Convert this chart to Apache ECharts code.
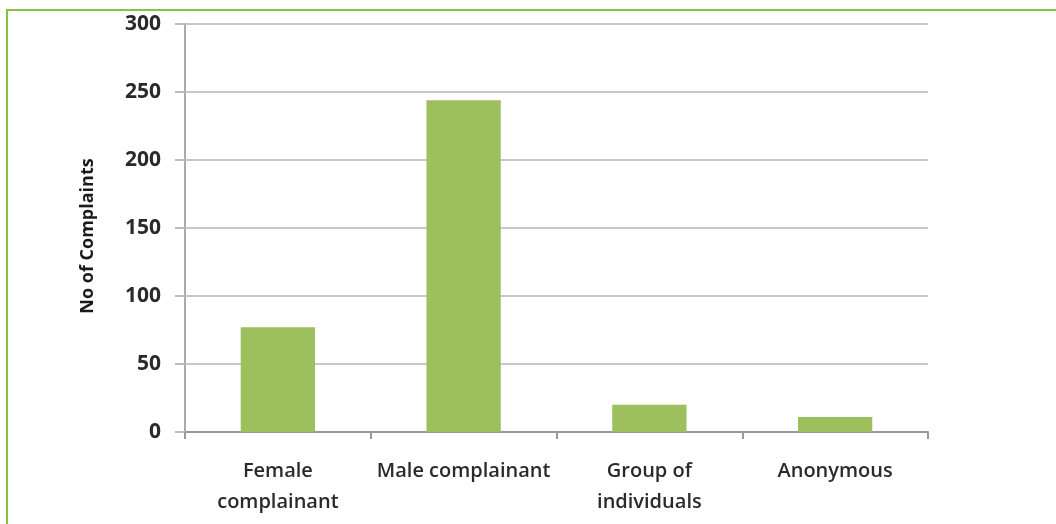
<!DOCTYPE html>
<html><head><meta charset="utf-8">
<script src="https://cdn.jsdelivr.net/npm/echarts@6/dist/echarts.min.js"></script>
<style>html,body{margin:0;padding:0;background:#fff}#c{width:1056px;height:524px}</style>
</head><body><div id="c"></div>
<script>
var categories = ["Female\ncomplainant", "Male complainant", "Group of\nindividuals", "Anonymous"];
var values = [77, 244, 20, 11];
var yTicks = [0, 50, 100, 150, 200, 250, 300];
var yName = "No of Complaints";

var chart = echarts.init(document.getElementById('c'));
chart.setOption({
  animation: false,
  backgroundColor: '#fff',
  graphic: [{
    type: 'rect', shape: {x: 7, y: 10, width: 1100, height: 600},
    style: {fill: 'none', stroke: '#84c441', lineWidth: 2}, silent: true
  }],
  grid: {left: 185, right: 128, top: 24, bottom: 92, containLabel: false},
  xAxis: {
    type: 'category', data: categories,
    axisLine: {lineStyle: {color: '#999', width: 2}},
    axisTick: {show: true, interval: 0, alignWithLabel: false, length: 7, lineStyle: {color: '#999', width: 2}},
    axisLabel: {interval: 0, hideOverlap: false, color: '#2a2a2a', fontFamily: 'Open Sans', fontSize: 20, fontWeight: 600, lineHeight: 31, margin: 24}
  },
  yAxis: {
    type: 'value', min: yTicks[0], max: yTicks[yTicks.length - 1], interval: 50,
    name: yName, nameLocation: 'middle', nameGap: 88, nameRotate: 90,
    nameTextStyle: {color: '#1a1a1a', fontFamily: 'Open Sans', fontWeight: 'bold', fontSize: 18, padding: [0, 16, 0, 0]},
    axisLine: {show: true, lineStyle: {color: '#aaa', width: 2}},
    axisTick: {show: true, length: 10, lineStyle: {color: '#bbb', width: 2}},
    splitLine: {lineStyle: {color: '#c8c8c8', width: 2}},
    axisLabel: {color: '#2a2a2a', fontFamily: 'Open Sans', fontWeight: 'bold', fontSize: 21, margin: 24}
  },
  series: [{
    type: 'bar', data: values, barWidth: '40%',
    itemStyle: {color: '#9dbf5d'}
  }]
});
</script></body></html>
